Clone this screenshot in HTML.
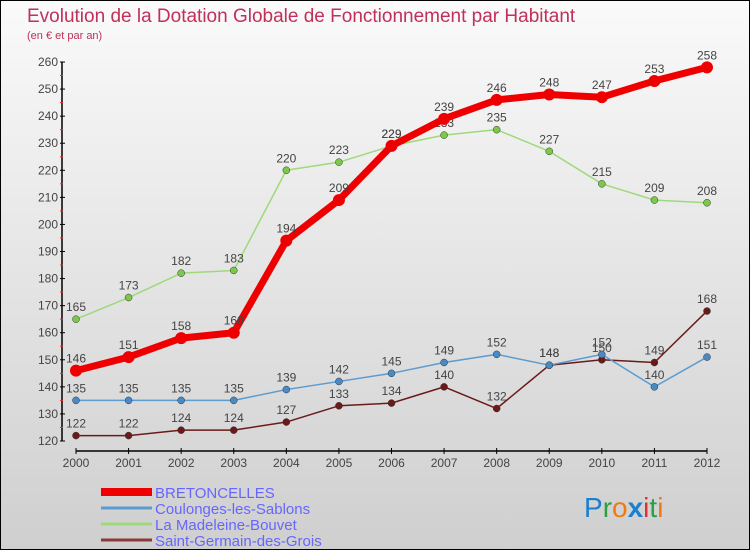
<!DOCTYPE html>
<html><head><meta charset="utf-8"><style>
body{margin:0}
#c{width:750px;height:550px;position:relative;box-sizing:border-box;border:1px solid #000;background:linear-gradient(#fafafa,#cfcfcf);font-family:"Liberation Sans",sans-serif;overflow:hidden}
</style></head><body>
<div id="c">
<svg width="750" height="550" style="position:absolute;left:0;top:0" id="svg">
<text x="26" y="21" font-size="19" fill="#c0305a" font-family="Liberation Sans, sans-serif">Evolution de la Dotation Globale de Fonctionnement par Habitant</text>
<text x="26" y="38" font-size="11" fill="#c0305a" font-family="Liberation Sans, sans-serif">(en € et par an)</text>
<g id="axes"></g><g id="series"></g><g id="legend"></g>
<text x="583" y="516" font-size="28" font-family="Liberation Sans, sans-serif"><tspan fill="#1a7fd0">P</tspan><tspan fill="#2aa040">r</tspan><tspan fill="#f07a10">o</tspan><tspan fill="#1a7fd0" font-weight="bold">x</tspan><tspan fill="#e03030">i</tspan><tspan fill="#2aa040">t</tspan><tspan fill="#f07a10">i</tspan></text>
</svg></div>
<script>
const years=[2000,2001,2002,2003,2004,2005,2006,2007,2008,2009,2010,2011,2012];
const yTicks=[120,130,140,150,160,170,180,190,200,210,220,230,240,250,260];
const seriesNames=["BRETONCELLES","Coulonges-les-Sablons","La Madeleine-Bouvet","Saint-Germain-des-Grois"];
const bretoncelles=[146,151,158,160,194,209,229,239,246,248,247,253,258];
const coulonges=[135,135,135,135,139,142,145,149,152,148,152,140,151];
const madeleine=[165,173,182,183,220,223,229,233,235,227,215,209,208];
const saintGermain=[122,122,124,124,127,133,134,140,132,148,150,149,168];
const NS="http://www.w3.org/2000/svg";
const X=i=>75+i*(706-75)/(years.length-1);
const Y=v=>440-(v-120)*(440-61)/140;
function mk(t,a,p){const e=document.createElementNS(NS,t);for(const k in a)e.setAttribute(k,a[k]);p.appendChild(e);return e;}
const ax=document.getElementById('axes');
let l=mk('line',{x1:61,y1:Y(260),x2:61,y2:Y(120),stroke:'#000','stroke-width':1.5},ax);

yTicks.forEach(v=>{
 mk('line',{x1:59,x2:64,y1:Y(v),y2:Y(v),stroke:'#000'},ax);
 if(v<260)mk('line',{x1:59,x2:62,y1:Y(v+5),y2:Y(v+5),stroke:'#e03030'},ax);
 const t=mk('text',{x:57,y:Y(v)+4,'text-anchor':'end','font-size':12,fill:'#444'},ax);t.textContent=v;
 
});
l=mk('line',{x1:X(0),x2:X(12),y1:450,y2:450,stroke:'#000','stroke-width':1.5},ax);

years.forEach((y,i)=>{
 mk('line',{x1:X(i),x2:X(i),y1:447,y2:453,stroke:'#000'},ax);
 const t=mk('text',{x:X(i),y:466,'text-anchor':'middle','font-size':12,fill:'#444'},ax);t.textContent=y;
 
});
const defs=[[saintGermain,'#6b1a1a','#6b1a1a',1.5,3.5,'saint-germain'],[coulonges,'#5b9bd0','#4a8ac4',1.5,3.5,'coulonges'],[madeleine,'#9ed97a','#7cc94a',1.5,3.5,'madeleine'],[bretoncelles,'#ee0000','#ee0000',7,6,'bretoncelles']];
const sg=document.getElementById('series');
defs.forEach(([d,c,pc,w,r,n])=>{
 const g=mk('g',{},sg);
 const p=mk('polyline',{points:d.map((v,i)=>X(i)+','+Y(v)).join(' '),fill:'none',stroke:c,'stroke-width':w,'stroke-linejoin':'round'},g);
 
 d.forEach((v,i)=>{
  const ci=mk('circle',{cx:X(i),cy:Y(v),r:r,fill:pc,stroke:w>2?'none':'#333','stroke-width':0.5},g);
  
  const t=mk('text',{x:X(i),y:Y(v)-8,'text-anchor':'middle','font-size':12,fill:'#444'},g);t.textContent=v;
  
 });
});
const lg=document.getElementById('legend');
const lc=['#ee0000','#5b9bd0','#9ed97a','#8b3a3a'],lw=[8,3,3,3];
seriesNames.forEach((n,i)=>{
 const y=491+i*16;
 const g=mk('g',{},lg);
 mk('line',{x1:100,x2:151,y1:y,y2:y,stroke:lc[i],'stroke-width':lw[i]},g);
 const t=mk('text',{x:154,y:y+6,'font-size':15,fill:'#6666ff','textLength':0},g);t.removeAttribute('textLength');t.textContent=n;
});
</script>
</body></html>
